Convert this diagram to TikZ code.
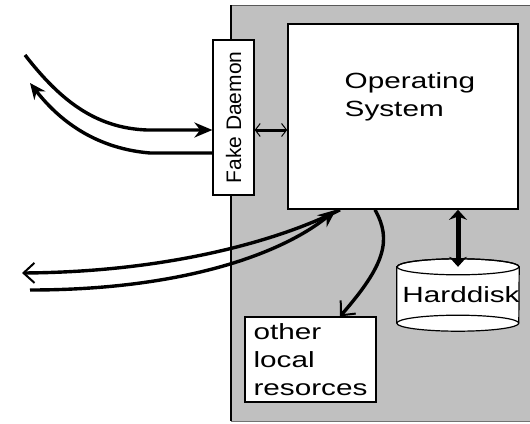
\documentclass[tikz,border=0pt]{standalone}
\usepackage{fontspec}
\newfontfamily\pixfont[FakeStretch=1.35]{Liberation Sans}
\newfontfamily\daemonfont{Liberation Sans}
\usetikzlibrary{positioning, arrows.meta}
\definecolor{panel}{RGB}{192,192,192}

\begin{document}
\begin{tikzpicture}[x=1pt, y=-1pt, >={Stealth[length=18pt, width=15pt]},
    box/.style={draw, fill=white, line width=1.6pt, inner sep=0pt},
    lbl/.style={font=\pixfont\fontsize{22}{28}\selectfont, align=left},
    wire/.style={line width=3.4pt},
    barb/.style={arrows={-Straight Barb[length=11pt, width=20pt, line width=2pt]}}]
  \useasboundingbox (0,0) rectangle (530,423);

  % the local machine
  \fill[panel] (231,5) rectangle (530,421);
  \draw[black!65, line width=1pt] (530,5) -- (231,5);
  \draw[black!55, line width=1pt] (231,421) -- (530,421);
  \draw[line width=1.8pt] (231,5) -- (231,421);

  \node[box, minimum width=230, minimum height=185] (os) at (403,116.5) {};
  \node[lbl, below right=46pt and 54pt of os.north west] (ostext) {Operating\\System};
  \node[box, line width=1.2pt, rotate=90, minimum width=155, minimum height=41,
        font=\daemonfont\fontsize{21}{24}\selectfont] (fd) at (233.5,117.5) {Fake Daemon};
  \node[box, line width=1.2pt, minimum width=131, minimum height=85, lbl] (other) at (310.5,359.5) {other\\local\\resorces};

  % harddisk
  \node[minimum width=122, minimum height=56, inner sep=0pt] (disk) at (458,295) {};
  \filldraw[fill=white, line width=1.2pt] (disk.north west) -- (disk.south west)
      arc[start angle=180, end angle=0, x radius=61, y radius=8]
      -- (disk.north east) arc[start angle=0, end angle=-180, x radius=61, y radius=8] -- cycle;
  \draw[line width=1.2pt] (disk.north) ellipse[x radius=61, y radius=8];
  \draw[line width=1.2pt] (disk.south west) arc[start angle=180, end angle=360, x radius=61, y radius=8];
  \node[lbl, xshift=3pt] (disktext) at (disk) {Harddisk};

  % free ends outside
  \coordinate (in1) at (25,55);
  \coordinate (out1) at (30,83);
  \coordinate (out2) at (22,273);
  \coordinate (in2) at (30,290);

  \draw[wire, ->] (in1) .. controls (60,100) and (95,128) .. (147,130) -- (fd.north |- 0,130);
  \draw[wire, -{Stealth[length=16pt, width=14pt]}] (fd.north |- 0,153) -- (150,153) .. controls (90,148) and (55,115) .. (out1);
  \draw[wire, barb] (os.south -| 340,0) .. controls (280,240) and (170,272) .. (out2);
  \draw[wire, ->] (in2) .. controls (180,290) and (280,255) .. (os.south -| 336,0);
  \draw[line width=3pt, {Straight Barb[length=5pt, width=13pt, line width=1pt]}-{Straight Barb[length=5pt, width=13pt, line width=1pt]}] (fd.south |- 0,130) -- (os.west |- 0,130);
  \draw[wire, barb] (os.south -| 375,0) .. controls (392,240) and (385,265) .. (other.north -| 340,0);
  \draw[line width=5pt, {Stealth[length=10pt, width=18pt]}-{Stealth[length=10pt, width=18pt]}] (os.south -| disk.north) -- (disk.north);
\end{tikzpicture}
\end{document}
